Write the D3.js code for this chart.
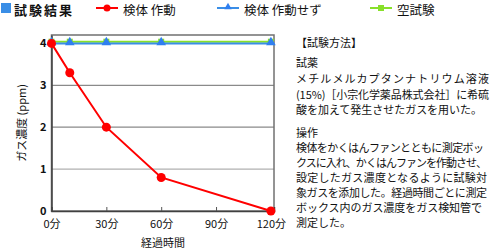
<!DOCTYPE html>
<html>
<head>
<meta charset="utf-8">
<script src="https://cdn.jsdelivr.net/npm/d3@7"></script>
<style>
  body { margin: 0; background: #fff; }
  text { font-family: "Noto Sans CJK JP", "Noto Sans", sans-serif; fill: #111; }
</style>
</head>
<body>
<div class="chart"></div>
<script>
var minutes = [0, 10, 30, 60, 120];
var activeValues = [4, 3.3, 2, 0.8, 0];      // 検体 作動
var inactiveValues = [4, 4, 4, 4, 4];        // 検体 作動せず
var blankValues = [4.04, 4.04, 4.04, 4.04, 4.04]; // 空試験
var xTicks = [0, 30, 60, 90, 120];
var yTicks = [0, 1, 2, 3, 4];
var methodLines = [
  "【試験方法】",
  "試薬",
  "メチルメルカプタンナトリウム溶液",
  "(15%)［小宗化学薬品株式会社］に希硫",
  "酸を加えて発生させたガスを用いた。",
  "操作",
  "検体をかくはんファンとともに測定ボッ",
  "クスに入れ、かくはんファンを作動させ、",
  "設定したガス濃度となるように試験対",
  "象ガスを添加した。経過時間ごとに測定",
  "ボックス内のガス濃度をガス検知管で",
  "測定した。"
];

var svgWidth = 492, svgHeight = 251;
var margin = { top: 35, left: 51.5, right: 218, bottom: 40 };
var width = svgWidth - margin.left - margin.right;
var height = svgHeight - margin.top - margin.bottom;

var svg = d3.select(".chart").append("svg")
  .attr("width", svgWidth)
  .attr("height", svgHeight);

var chartGroup = svg.append("g")
  .attr("transform", `translate(${margin.left}, ${margin.top})`);

var x = d3.scaleLinear().domain([0, 121.7]).range([0, width]);
var y = d3.scaleLinear().domain([0, 4.2]).range([height, 0]);

// grid lines
chartGroup.selectAll(".grid")
  .data([1, 2, 3])
  .enter().append("line")
  .attr("x1", 0).attr("x2", width)
  .attr("y1", d => y(d)).attr("y2", d => y(d))
  .attr("stroke", d => d == 1 ? "#b0b0b0" : "#8a8a8a")
  .attr("stroke-width", 1.2);

// frame
chartGroup.append("rect")
  .attr("width", width).attr("height", height)
  .attr("fill", "none")
  .attr("stroke", "#707070")
  .attr("stroke-width", 1.5);

// bottom axis with small inner ticks
var bottomAxis = d3.axisBottom(x).tickValues(xTicks).tickSize(-4).tickFormat(d => d + "分");
var xAxisG = chartGroup.append("g")
  .attr("transform", `translate(0,${height})`)
  .call(bottomAxis);
xAxisG.select(".domain").attr("stroke", "#404040").attr("stroke-width", 1.5);
xAxisG.selectAll(".tick line").attr("stroke", "#555")
  .attr("display", d => (d == 0 || d == 120) ? "none" : null);
xAxisG.selectAll(".tick text").attr("y", 9).attr("font-size", 11)
  .style("font-family", "\"Noto Sans CJK JP\", sans-serif").attr("fill", "#111");

var leftAxis = d3.axisLeft(y).tickValues(yTicks).tickSize(0).tickPadding(5).tickFormat(d3.format("d"));
var yAxisG = chartGroup.append("g").call(leftAxis);
yAxisG.select(".domain").attr("stroke", "#404040").attr("stroke-width", 1.5);
yAxisG.selectAll(".tick text").attr("font-size", 11).attr("font-weight", "bold")
  .style("font-family", "\"Noto Sans CJK JP\", sans-serif").attr("fill", "#111");

var line = d3.line().x(d => x(d[0])).y(d => y(d[1]));
function pairs(vals) { return minutes.map((m, i) => [m, vals[i]]); }

// 空試験
chartGroup.append("path").datum(pairs(blankValues))
  .attr("d", line).attr("fill", "none").attr("stroke", "#88e02a").attr("stroke-width", 2);
chartGroup.selectAll(".sq").data(pairs(blankValues)).enter().append("rect")
  .attr("x", d => x(d[0]) - 3).attr("y", d => y(d[1]) - 3)
  .attr("width", 6).attr("height", 6).attr("fill", "#88e02a");

// 検体 作動せず
chartGroup.append("path").datum(pairs(inactiveValues))
  .attr("d", line).attr("fill", "none").attr("stroke", "#3a8ee6").attr("stroke-width", 2);
var tri = d3.symbol().type(d3.symbolTriangle).size(40);
chartGroup.selectAll(".tri").data(pairs(inactiveValues)).enter().append("path")
  .attr("d", tri)
  .attr("transform", d => `translate(${x(d[0])},${y(d[1]) - 1})`)
  .attr("fill", "#2f7ff0");

// 検体 作動
chartGroup.append("path").datum(pairs(activeValues))
  .attr("d", line).attr("fill", "none").attr("stroke", "#ff0000").attr("stroke-width", 2);
chartGroup.selectAll(".dot").data(pairs(activeValues)).enter().append("circle")
  .attr("cx", d => x(d[0])).attr("cy", d => y(d[1]))
  .attr("r", 4.5).attr("fill", "#ff0000");

// axis titles
svg.append("text")
  .attr("transform", `translate(26, 123) rotate(-90)`)
  .attr("text-anchor", "middle")
  .attr("font-size", 11)
  .text("ガス濃度 (ppm)");
svg.append("text")
  .attr("x", 163).attr("y", 247)
  .attr("text-anchor", "middle")
  .attr("font-size", 11)
  .text("経過時間");

// legend
var legend = svg.append("g");
legend.append("rect").attr("x", 1).attr("y", 3).attr("width", 10).attr("height", 10).attr("fill", "#3a8ee6");
legend.append("text").attr("x", 14).attr("y", 15.2).attr("font-size", 13).attr("font-weight", "bold")
  .attr("textLength", 58).text("試験結果");

var legendItems = [
  { name: "検体 作動", color: "#ff0000", x: 96, shape: "circle" },
  { name: "検体 作動せず", color: "#3a8ee6", x: 217, shape: "tri" },
  { name: "空試験", color: "#88e02a", x: 370, shape: "sq" }
];
legendItems.forEach(function (it) {
  legend.append("line").attr("x1", it.x).attr("x2", it.x + 22).attr("y1", 8).attr("y2", 8)
    .attr("stroke", it.color).attr("stroke-width", 2);
  if (it.shape == "circle") {
    legend.append("circle").attr("cx", it.x + 11).attr("cy", 8).attr("r", 3.5).attr("fill", it.color);
  } else if (it.shape == "tri") {
    legend.append("path").attr("d", d3.symbol().type(d3.symbolTriangle).size(24))
      .attr("transform", `translate(${it.x + 11},7)`).attr("fill", "#2f7ff0");
  } else {
    legend.append("rect").attr("x", it.x + 8).attr("y", 5).attr("width", 6).attr("height", 6).attr("fill", it.color);
  }
  legend.append("text").attr("x", it.x + 27).attr("y", 14.5).attr("font-size", 12.5).text(it.name);
});

// test method text: line baselines and right edges
var lineY = [47, 67, 83, 99, 114, 137, 152, 167, 182, 197, 212, 227];
var lineEnd = [null, null, 489, 489, 482, null, 484, 487, 487, 487, 482, null];
methodLines.forEach(function (s, i) {
  var t = svg.append("text").attr("x", 296).attr("y", lineY[i]).attr("font-size", 11).text(s);
  if (lineEnd[i]) t.attr("textLength", lineEnd[i] - 296).attr("lengthAdjust", "spacing");
});
</script>
</body>
</html>
